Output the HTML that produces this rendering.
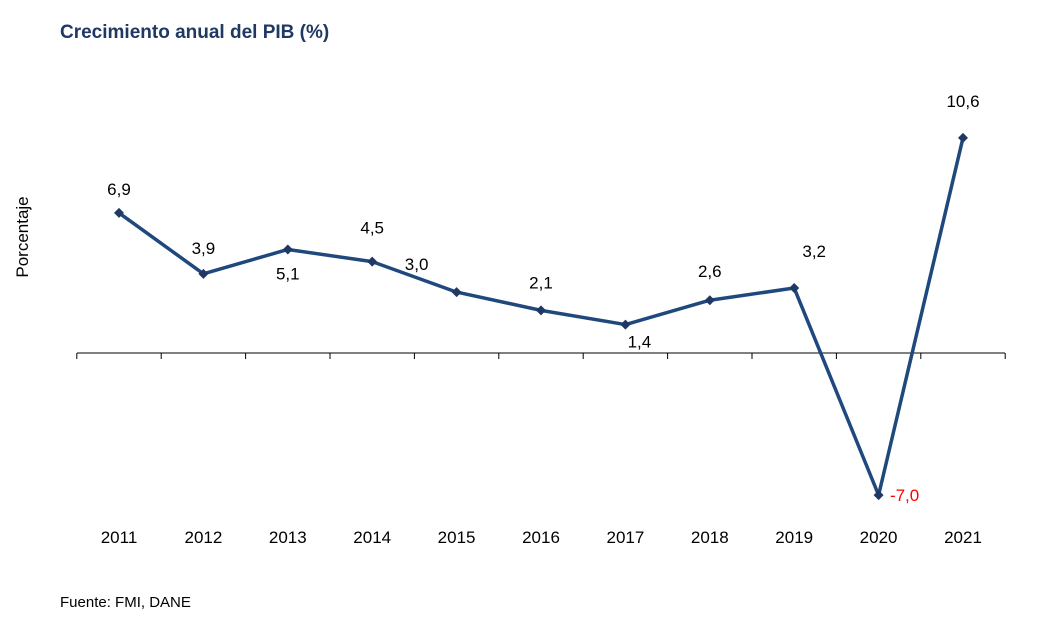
<!DOCTYPE html>
<html><head><meta charset="utf-8"><style>
body{margin:0;background:#fff;font-family:"Liberation Sans",Arial,sans-serif}
</style></head><body>
<svg width="1063" height="613" xmlns="http://www.w3.org/2000/svg" font-family="Liberation Sans, Arial, sans-serif">
<text x="60" y="38" font-size="19" font-weight="bold" fill="#1f3864">Crecimiento anual del PIB (%)</text>
<text transform="translate(28,237) rotate(-90)" text-anchor="middle" font-size="17" fill="#000">Porcentaje</text>
<text x="60" y="607" font-size="15" fill="#000">Fuente: FMI, DANE</text>
<g id="axis"></g><g id="marks"></g>
</svg>
<script>
const years=["2011","2012","2013","2014","2015","2016","2017","2018","2019","2020","2021"];
const growth=[6.9,3.9,5.1,4.5,3.0,2.1,1.4,2.6,3.2,-7.0,10.6];
const labelText=["6,9","3,9","5,1","4,5","3,0","2,1","1,4","2,6","3,2","-7,0","10,6"];
const labelOffsetX=[0,0,0,0,-40,0,14,0,20,26,0];
const labelOffsetY=[-18,-20,30,-28,-22,-22,23,-23,-31,6,-31];
const x0=119,step=84.4,zeroY=353,pxPerUnit=20.3;
const xs=i=>x0+i*step, ys=v=>zeroY-v*pxPerUnit;
const ns="http://www.w3.org/2000/svg";
const ax=document.getElementById('axis'),mk=document.getElementById('marks');
function el(t,a,p){const e=document.createElementNS(ns,t);for(const k in a)e.setAttribute(k,a[k]);p.appendChild(e);return e;}
const base=el('line',{x1:77,x2:1005,y1:zeroY,y2:zeroY,stroke:'#000','stroke-width':1},ax);


for(let i=0;i<=years.length;i++){const t=el('line',{x1:xs(i)-step/2,x2:xs(i)-step/2,y1:zeroY,y2:zeroY+6,stroke:'#000'},ax);

}
years.forEach((y,i)=>{const t=el('text',{x:xs(i),y:543,'text-anchor':'middle','font-size':17},ax);t.textContent=y;

});
const pl=el('polyline',{points:growth.map((v,i)=>xs(i)+','+ys(v)).join(' '),fill:'none',stroke:'#1f497d','stroke-width':3.5,'stroke-linejoin':'round'},mk);


growth.forEach((v,i)=>{const x=xs(i),y=ys(v);
const d=el('path',{d:`M${x} ${y-5}L${x+5} ${y}L${x} ${y+5}L${x-5} ${y}Z`,fill:'#1f3864'},mk);


const t=el('text',{x:x+labelOffsetX[i],y:y+labelOffsetY[i],'text-anchor':'middle','font-size':17,fill:v<0?'#ff0000':'#000'},mk);t.textContent=labelText[i];

});
</script>
</body></html>
